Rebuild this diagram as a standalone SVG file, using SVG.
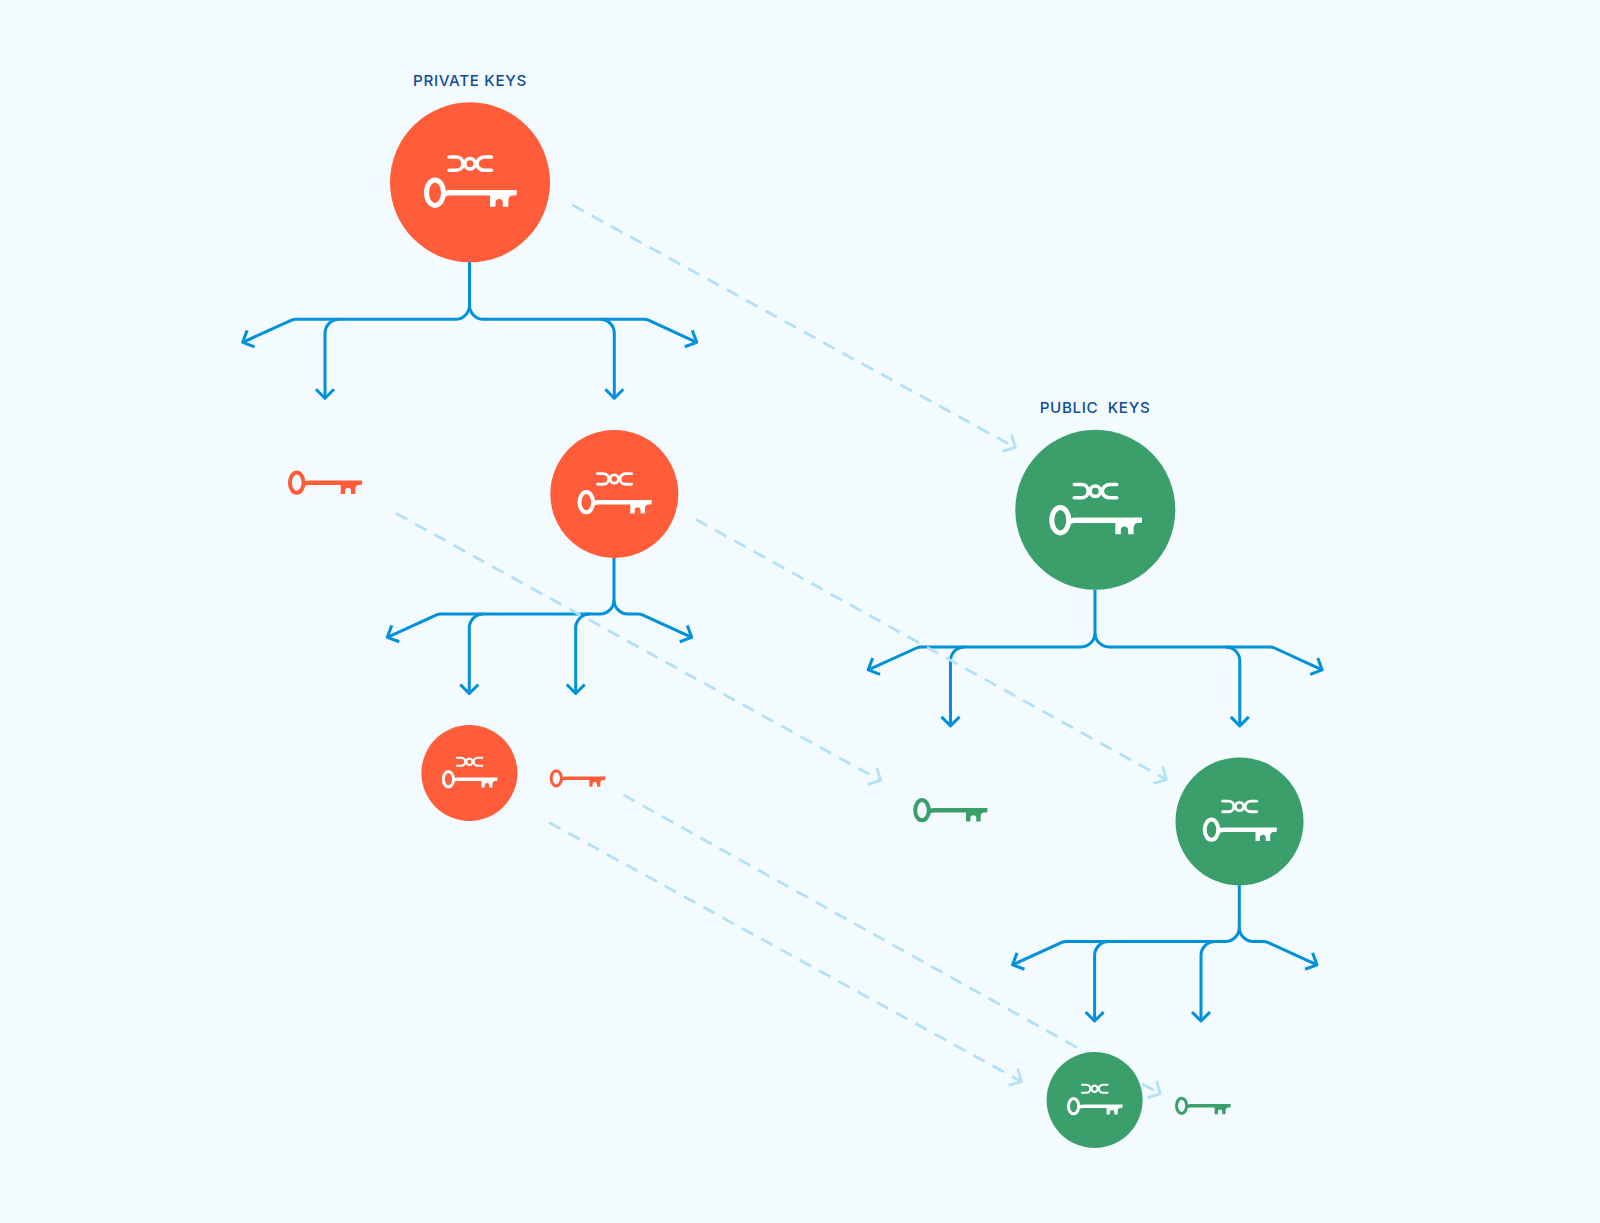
<svg xmlns="http://www.w3.org/2000/svg" width="1600" height="1223" viewBox="0 0 1600 1223">
<style>
.bg{fill:#F3FBFF}
.orange{fill:#FF5C39}
.green{fill:#3A9F6A}
.wire{fill:none;stroke:#0091DA;stroke-width:3;stroke-linejoin:round}
.arr{marker-end:url(#ah)}
.dash{fill:none;stroke:#B3E1F7;stroke-width:2.8;stroke-dasharray:13 9;marker-end:url(#ad)}
.label{font-family:Inter,"Liberation Sans",sans-serif;font-size:15.2px;font-weight:550;fill:#0F4C96;text-anchor:middle;letter-spacing:.65px}
</style>
<defs>
<marker id="ah" markerUnits="userSpaceOnUse" markerWidth="30" markerHeight="30" viewBox="-15 -15 30 30" refX="0" refY="0" orient="auto"><path d="M-9,-9 L0,0 L-9,9" fill="none" stroke="#0091DA" stroke-width="3" stroke-linecap="butt" stroke-linejoin="round"/></marker>
<marker id="ad" markerUnits="userSpaceOnUse" markerWidth="30" markerHeight="30" viewBox="-15 -15 30 30" refX="0" refY="0" orient="auto"><path d="M-9.5,-9.5 L0,0 L-9.5,9.5" fill="none" stroke="#B3E1F7" stroke-width="2.8" stroke-linejoin="miter"/></marker>
<g id="key">
<ellipse cx="0" cy="0" rx="8.5" ry="12.7" fill="none" stroke="currentColor" stroke-width="5"/>
<path fill="currentColor" d="M10,-2 Q12,-2.8 16,-2.8 H81.7 V1.5 Q81.7 2.8 80 2.8 H77 Q73.3 3.5 73.3 8 V14 H67.8 V10 A3.65 3.65 0 0 0 60.5 10 V14 H55 V2.8 H16 Q12,2.8 10,4 Z"/>
</g>
<g id="knot" fill="none" stroke="currentColor" stroke-width="3.6" stroke-linecap="round">
<path d="M14,-35.7 H21 C26,-35.7 28,-32 28,-29 C28,-26 26,-22.4 21,-22.4 H14"/>
<path d="M56.5,-35.7 H49.5 C44.5,-35.7 42,-32 42,-29 C42,-26 44.5,-22.4 49.5,-22.4 H56.5"/>
<circle cx="35" cy="-29" r="5.2"/>
</g>
<g id="tree-wide">
<path d="M469.5,262 V305.3 A14 14 0 0 1 455.5,319.3 H296 Q293.3,319.3 291,320.4 L242.7,342.3" class="arr"/>
<path d="M469.5,305.3 A14 14 0 0 0 483.5,319.3 H644 Q646.7,319.3 649,320.4 L696.7,342.3" class="arr"/>
<path d="M339,319.3 A14 14 0 0 0 325,333.3 V398.3" class="arr"/>
<path d="M600.3,319.3 A14 14 0 0 1 614.3,333.3 V398.3" class="arr"/>
</g>
<g id="tree-narrow">
<path d="M614,557 V600 A14 14 0 0 1 600,614 H441 Q438.3,614 436,615.1 L387.3,637.3" class="arr"/>
<path d="M614,600 A14 14 0 0 0 628,614 H638 Q640.7,614 643,615.1 L691.7,637.3" class="arr"/>
<path d="M483.3,614 A14 14 0 0 0 469.3,628 V693.5" class="arr"/>
<path d="M589.7,614 A14 14 0 0 0 575.7,628 V693.5" class="arr"/>
</g>
</defs>
<rect class="bg" width="1600" height="1223"/>
<g id="connectors">
<g class="wire">
<use href="#tree-wide"/>
<use href="#tree-narrow"/>
<use href="#tree-wide" transform="translate(625.5,327.6)"/>
<use href="#tree-narrow" transform="translate(625.3,327.5)"/>
</g>
<path class="dash" d="M572.4,205.1 L1015.3,447.5"/>
<path class="dash" d="M395.9,513.3 L880.6,780.6"/>
<path class="dash" d="M695.9,519.4 L1166.4,779.6"/>
<path class="dash" d="M623.5,794.9 L1160.3,1093.9"/>
<path class="dash" d="M549,822.4 L1021.4,1081.6"/>
</g>
<g id="private-keys-label"><text class="label" x="470" y="86">PRIVATE KEYS</text></g>
<g id="public-keys-label"><text class="label" x="1095" y="413" xml:space="preserve">PUBLIC  KEYS</text></g>
<g id="private-root"><circle class="orange" cx="470" cy="182.3" r="80"/><g color="#fff" transform="translate(435,192.7)"><use href="#key"/><use href="#knot"/></g></g>
<g id="private-child"><circle class="orange" cx="614.3" cy="493.9" r="64"/><g color="#fff" transform="translate(586.3,502.2) scale(.8)"><use href="#key"/><use href="#knot"/></g></g>
<g id="private-grandchild"><circle class="orange" cx="469.4" cy="773" r="48"/><g color="#fff" transform="translate(448.4,779.2) scale(.6)"><use href="#key"/><use href="#knot"/></g></g>
<g id="private-key-medium" color="#FF5C39"><use href="#key" transform="translate(296.7,482.7) scale(.8)"/></g>
<g id="private-key-small" color="#FF5C39"><use href="#key" transform="translate(556.3,778.3) scale(.6)"/></g>
<g id="public-root"><circle class="green" cx="1095.3" cy="509.8" r="80"/><g color="#fff" transform="translate(1060.3,520.2)"><use href="#key"/><use href="#knot"/></g></g>
<g id="public-child"><circle class="green" cx="1239.5" cy="821.4" r="64"/><g color="#fff" transform="translate(1211.5,829.7) scale(.8)"><use href="#key"/><use href="#knot"/></g></g>
<g id="public-grandchild"><circle class="green" cx="1094.6" cy="1100" r="48"/><g color="#fff" transform="translate(1073.6,1106.2) scale(.6)"><use href="#key"/><use href="#knot"/></g></g>
<g id="public-key-medium" color="#3A9F6A"><use href="#key" transform="translate(922,810.2) scale(.8)"/></g>
<g id="public-key-small" color="#3A9F6A"><use href="#key" transform="translate(1181.6,1105.8) scale(.6)"/></g>
</svg>
